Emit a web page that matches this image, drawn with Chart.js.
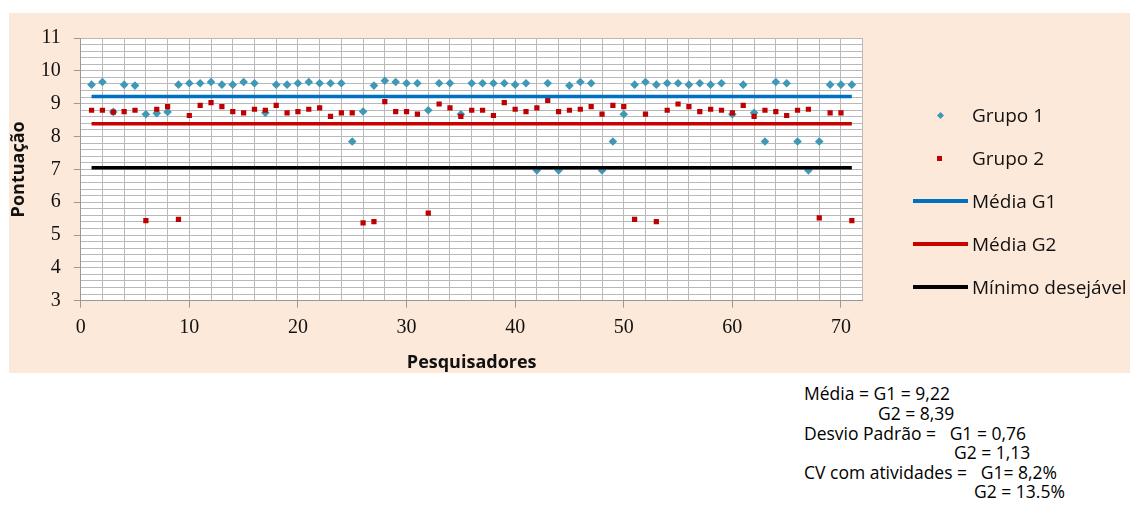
<!DOCTYPE html>
<html>
<head>
<meta charset="utf-8">
<script src="https://cdn.jsdelivr.net/npm/chart.js@4"></script>
<style>
  body { margin: 0; background: #fff; width: 1130px; height: 527px; position: relative; overflow: hidden; }
  #box { position: absolute; left: 9px; top: 13px; width: 1121px; height: 360px; background: #fde9d9; }
  #grafico { position: absolute; left: 0; top: 0; }
  .leg { position: absolute; font-family: "Open Sans", sans-serif; font-size: 19px; color: #111; line-height: 24px; white-space: nowrap; }
  .mk { position: absolute; }
  .st { position: absolute; font-family: "Open Sans", sans-serif; font-size: 17.5px; color: #000; line-height: 20px; white-space: pre; }
</style>
</head>
<body>
<div id="box">
  <canvas id="grafico" width="1121" height="360"></canvas>
</div>
<div id="legenda"></div>
<div id="stats"></div>

<script>
// Pontuação de cada pesquisador (1..71)
const grupo1 = [
  9.58, 9.66, 8.75, 9.58, 9.55, 8.68, 8.71, 8.75, 9.58, 9.62,
  9.62, 9.66, 9.58, 9.58, 9.66, 9.62, 8.72, 9.58, 9.58, 9.62,
  9.66, 9.62, 9.62, 9.62, 7.85, 8.76, 9.55, 9.70, 9.66, 9.62,
  9.62, 8.80, 9.62, 9.62, 8.68, 9.62, 9.62, 9.62, 9.62, 9.58,
  9.62, 6.97, 9.62, 6.97, 9.55, 9.66, 9.62, 6.97, 7.85, 8.68,
  9.58, 9.66, 9.58, 9.62, 9.62, 9.58, 9.62, 9.58, 9.62, 8.68,
  9.58, 8.72, 7.85, 9.66, 9.62, 7.85, 6.97, 7.85, 9.58, 9.58,
  9.58
];
const grupo2 = [
  8.80, 8.80, 8.74, 8.76, 8.80, 5.44, 8.83, 8.91, 5.48, 8.64,
  8.95, 9.03, 8.91, 8.76, 8.72, 8.83, 8.80, 8.95, 8.72, 8.76,
  8.83, 8.87, 8.61, 8.72, 8.72, 5.37, 5.41, 9.06, 8.76, 8.76,
  8.68, 5.67, 8.99, 8.87, 8.61, 8.80, 8.80, 8.64, 9.03, 8.83,
  8.76, 8.87, 9.10, 8.76, 8.80, 8.83, 8.91, 8.68, 8.95, 8.91,
  5.48, 8.68, 5.41, 8.80, 8.99, 8.91, 8.76, 8.83, 8.80, 8.72,
  8.95, 8.61, 8.80, 8.76, 8.64, 8.80, 8.83, 5.52, 8.72, 8.72,
  5.44
];

// Linhas de referência (de x=1 até x=71)
const linhaInicio = 1;
const linhaFim = 71;
const mediaG1 = 9.22;
const mediaG2 = 8.39;
const minimoDesejavel = 7.05;

// Eixos
const eixoX = { min: 0, max: 72, passo: 2, rotulo: 10 };
const eixoY = { min: 3, max: 11, passo: 0.2 };

const nomes = ['Grupo 1', 'Grupo 2', 'Média G1', 'Média G2', 'Mínimo desejável'];
const cores = ['#3f98b5', '#c00000', '#0070c0', '#c80000', '#000000'];

const estatisticas = [
  { texto: 'Média = G1 = 9,22', left: 804, y: 393 },
  { texto: 'G2 = 8,39', left: 878, y: 413 },
  { texto: 'Desvio Padrão =   G1 = 0,76', left: 804, y: 433 },
  { texto: 'G2 = 1,13', left: 954, y: 452 },
  { texto: 'CV com atividades =   G1= 8,2%', left: 804, y: 472 },
  { texto: 'G2 = 13.5%', left: 974, y: 491 }
];

function pontos(valores) {
  return valores.map((v, i) => ({ x: i + 1, y: v }));
}

function linha(valor) {
  return [{ x: linhaInicio, y: valor }, { x: linhaFim, y: valor }];
}

function inteiro(v, m) {
  return Math.abs(v / m - Math.round(v / m)) < 1e-6;
}

// Fundo branco da área de plotagem
const fundoPlot = {
  id: 'fundoPlot',
  beforeDraw(chart) {
    const { ctx, chartArea: a } = chart;
    ctx.save();
    ctx.fillStyle = '#ffffff';
    ctx.fillRect(a.left, a.top, a.right - a.left, a.bottom - a.top);
    ctx.restore();
  }
};

const fonteTicks = { family: '"Liberation Serif", "DejaVu Serif", serif', size: 20 };
const fonteTitulo = { family: '"Open Sans", sans-serif', size: 18, weight: 'bold', lineHeight: 1.1 };

new Chart(document.getElementById('grafico'), {
  type: 'scatter',
  data: {
    datasets: [
      {
        label: nomes[0], data: pontos(grupo1), order: 4,
        pointStyle: 'rectRot', pointRadius: 4.3, pointBorderWidth: 0,
        backgroundColor: cores[0], borderColor: cores[0]
      },
      {
        label: nomes[1], data: pontos(grupo2), order: 3,
        pointStyle: 'rect', pointRadius: 3.7, pointBorderWidth: 0,
        backgroundColor: cores[1], borderColor: cores[1]
      },
      {
        label: nomes[2], data: linha(mediaG1), order: 2, showLine: true,
        pointRadius: 0, borderWidth: 3.5, borderColor: cores[2], backgroundColor: cores[2]
      },
      {
        label: nomes[3], data: linha(mediaG2), order: 1, showLine: true,
        pointRadius: 0, borderWidth: 3.5, borderColor: cores[3], backgroundColor: cores[3]
      },
      {
        label: nomes[4], data: linha(minimoDesejavel), order: 0, showLine: true,
        pointRadius: 0, borderWidth: 3.5, borderColor: cores[4], backgroundColor: cores[4]
      }
    ]
  },
  options: {
    responsive: false,
    animation: false,
    devicePixelRatio: 1,
    layout: { padding: { left: 0, top: 7, right: 267.3, bottom: 0 } },
    plugins: {
      legend: { display: false },
      tooltip: { enabled: false }
    },
    scales: {
      x: {
        type: 'linear',
        min: eixoX.min, max: eixoX.max,
        afterFit: s => { s.height = 72.3; },
        border: { color: '#999999', width: 1 },
        grid: {
          color: '#b9b9b9',
          tickLength: 7,
          tickColor: c => inteiro(c.tick.value, eixoX.rotulo) ? '#999999' : 'rgba(0,0,0,0)'
        },
        ticks: {
          stepSize: eixoX.passo,
          autoSkip: false,
          maxRotation: 0,
          padding: 8,
          color: '#111111',
          font: fonteTicks,
          callback: v => inteiro(v, eixoX.rotulo) ? String(v) : ''
        },
        title: {
          display: true, text: 'Pesquisadores', color: '#111111',
          font: fonteTitulo, padding: { top: 0, bottom: 0 }
        }
      },
      y: {
        type: 'linear',
        min: eixoY.min, max: eixoY.max,
        afterFit: s => { s.width = 71.7; },
        border: { color: '#999999', width: 1 },
        grid: {
          color: '#b9b9b9',
          tickLength: 7,
          tickColor: c => inteiro(c.tick.value, 1) ? '#999999' : 'rgba(0,0,0,0)'
        },
        ticks: {
          stepSize: eixoY.passo,
          autoSkip: false,
          padding: 13,
          color: '#111111',
          font: fonteTicks,
          callback: v => inteiro(v, 1) ? String(Math.round(v)) : ''
        },
        title: {
          display: true, text: 'Pontuação', color: '#111111',
          font: fonteTitulo, padding: { top: 0, bottom: 0 }
        }
      }
    }
  },
  plugins: [fundoPlot]
});

// Legenda à direita
const legenda = document.getElementById('legenda');
const legY = [115, 158, 201, 244, 287];
nomes.forEach((nome, i) => {
  const y = legY[i];
  const mk = document.createElement('div');
  mk.className = 'mk';
  if (i === 0) {
    mk.style.cssText = `left:${940 - 2.5}px;top:${y - 2.5}px;width:5px;height:5px;background:${cores[i]};transform:rotate(45deg);`;
  } else if (i === 1) {
    mk.style.cssText = `left:${939.5 - 2.5}px;top:${y - 2.5}px;width:5px;height:5px;background:${cores[i]};`;
  } else {
    mk.style.cssText = `left:913px;top:${y - 2}px;width:55px;height:4px;background:${cores[i]};`;
  }
  legenda.appendChild(mk);
  const t = document.createElement('div');
  t.className = 'leg';
  t.style.left = '972px';
  t.style.top = (y - 12) + 'px';
  t.textContent = nome;
  legenda.appendChild(t);
});

// Texto de estatísticas abaixo do gráfico
const stats = document.getElementById('stats');
estatisticas.forEach(e => {
  const d = document.createElement('div');
  d.className = 'st';
  d.style.left = e.left + 'px';
  d.style.top = (e.y - 10) + 'px';
  d.textContent = e.texto;
  stats.appendChild(d);
});
</script>
</body>
</html>
